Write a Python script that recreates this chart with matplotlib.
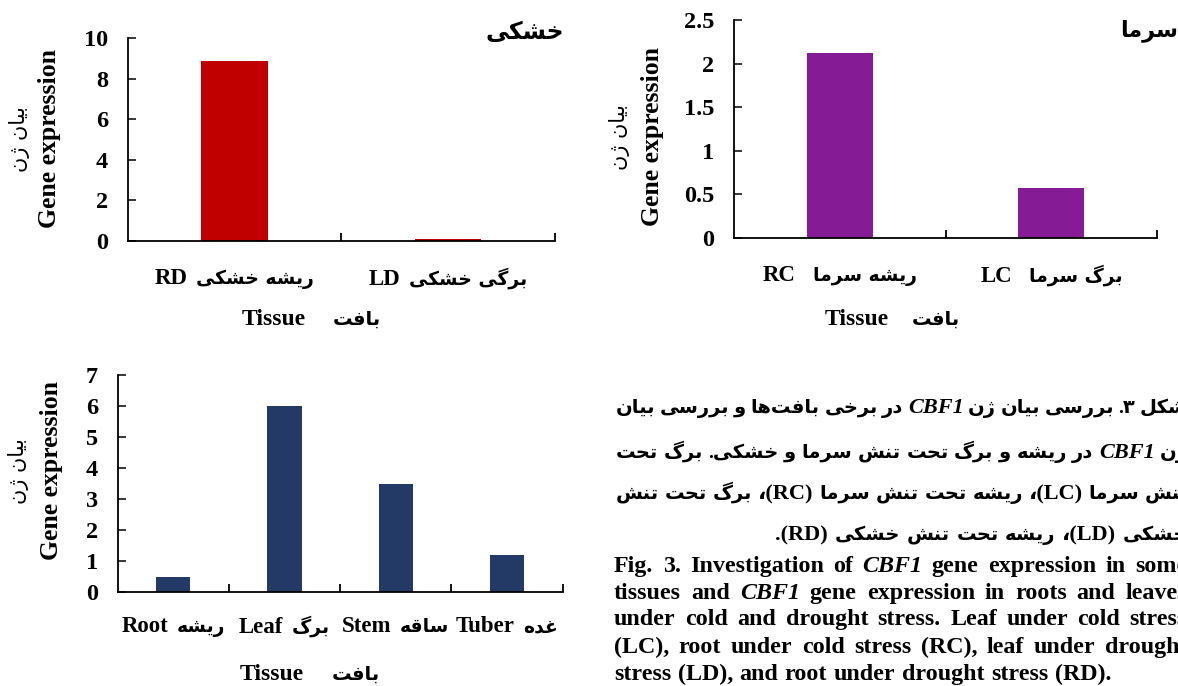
import matplotlib
matplotlib.use("Agg")
import matplotlib.pyplot as plt
from matplotlib.ticker import MultipleLocator, FormatStrFormatter
from matplotlib.offsetbox import TextArea, HPacker, AnnotationBbox

W, H, DPI = 1178, 686, 100
SERIF = ["Liberation Serif", "DejaVu Sans"]   # Latin from Times-like, Persian falls back
FA = ["DejaVu Sans"]

# ---- data -------------------------------------------------------------
drought_en = ["RD", "LD"]
drought_fa = ["ریشه خشکی", "برگی خشکی"]
drought_vals = [8.87, 0.12]

cold_en = ["RC", "LC"]
cold_fa = ["ریشه سرما", "برگ سرما"]
cold_vals = [2.12, 0.57]

organ_en = ["Root", "Leaf", "Stem", "Tuber"]
organ_fa = ["ریشه", "برگ", "ساقه", "غده"]
organ_vals = [0.48, 6.0, 3.48, 1.19]

caption_fa = [
    "شکل ۳. بررسی بیان ژن CBF1 در برخی بافت‌ها و بررسی بیان",
    "ژن CBF1 در ریشه و برگ تحت تنش سرما و خشکی. برگ تحت",
    "تنش سرما (LC)، ریشه تحت تنش سرما (RC)، برگ تحت تنش",
    "خشکی (LD)، ریشه تحت تنش خشکی (RD).",
]
caption_en = [
    "Fig. 3. Investigation of CBF1 gene expression in some",
    "tissues and CBF1 gene expression in roots and leaves",
    "under cold and drought stress. Leaf under cold stress",
    "(LC), root under cold stress (RC), leaf under drought",
    "stress (LD), and root under drought stress (RD).",
]

# ---- minimal Persian shaping (isolated, final, initial, medial) ---------
FORMS = {
    "ا": "\uFE8D\uFE8E", "د": "\uFEA9\uFEAA", "ر": "\uFEAD\uFEAE",
    "ز": "\uFEAF\uFEB0", "ژ": "\uFB8A\uFB8B", "و": "\uFEED\uFEEE",
    "ب": "\uFE8F\uFE90\uFE91\uFE92", "ت": "\uFE95\uFE96\uFE97\uFE98",
    "ح": "\uFEA1\uFEA2\uFEA3\uFEA4", "خ": "\uFEA5\uFEA6\uFEA7\uFEA8",
    "س": "\uFEB1\uFEB2\uFEB3\uFEB4", "ش": "\uFEB5\uFEB6\uFEB7\uFEB8",
    "غ": "\uFECD\uFECE\uFECF\uFED0", "ف": "\uFED1\uFED2\uFED3\uFED4",
    "ق": "\uFED5\uFED6\uFED7\uFED8", "ل": "\uFEDD\uFEDE\uFEDF\uFEE0",
    "م": "\uFEE1\uFEE2\uFEE3\uFEE4", "ن": "\uFEE5\uFEE6\uFEE7\uFEE8",
    "ه": "\uFEE9\uFEEA\uFEEB\uFEEC", "ی": "\uFBFC\uFBFD\uFBFE\uFBFF",
    "ک": "\uFB8E\uFB8F\uFB90\uFB91", "گ": "\uFB92\uFB93\uFB94\uFB95",
}


def fa(s):
    out = []
    for i, ch in enumerate(s):
        f = FORMS.get(ch)
        if f is None:
            if ch != "\u200c":
                out.append(ch)
            continue
        prev = FORMS.get(s[i - 1]) if i > 0 else None
        nxt = FORMS.get(s[i + 1]) if i + 1 < len(s) else None
        a = prev is not None and len(prev) == 4
        b = nxt is not None and len(f) == 4
        out.append(f[3] if a and b else f[1] if a else f[2] if b else f[0])
    return "".join(out)[::-1]


def fx(x):
    return x / W


def fy(y):
    return 1 - y / H


fig = plt.figure(figsize=(W / DPI, H / DPI), dpi=DPI)


def bar_panel(box, values, en, fa_lab, color, ymax, step, lab_off=27, sep=6,
              en_size=16.5, fa_size=13.5):
    l, r, t, b = box
    ax = fig.add_axes([fx(l), fy(b), fx(r - l), (b - t) / H])
    n = len(values)
    x = list(range(n))
    ax.bar(x, values, width=0.31, color=color)
    ax.set_xlim(-0.5, n - 0.5)
    ax.set_ylim(0, ymax)
    ax.yaxis.set_major_locator(MultipleLocator(step))
    ax.yaxis.set_major_formatter(FormatStrFormatter("%g"))
    ax.set_xticks([])
    ax.set_xticks([i + 0.5 for i in x], minor=True)
    for s in ["top", "right"]:
        ax.spines[s].set_visible(False)
    for s in ["left", "bottom"]:
        ax.spines[s].set_linewidth(1.3)
    ax.tick_params(axis="x", which="minor", direction="in", length=6, width=1.3)
    ax.tick_params(axis="y", direction="in", length=6, width=1.1, pad=14)
    for lab in ax.get_yticklabels():
        lab.set_fontfamily(SERIF)
        lab.set_fontweight("bold")
        lab.set_fontsize(17.5)
    for i, e, p in zip(x, en, fa_lab):
        pack = HPacker(children=[
            TextArea(e, textprops=dict(family=SERIF, weight="bold", fontsize=en_size)),
            TextArea(fa(p), textprops=dict(family=FA, weight="bold", fontsize=fa_size)),
        ], align="baseline", pad=0, sep=sep)
        ab = AnnotationBbox(pack, (i, 0), xycoords=("data", "axes fraction"),
                            xybox=(0, -lab_off), boxcoords="offset points",
                            box_alignment=(0.5, 0.5), frameon=False,
                            annotation_clip=False)
        ax.add_artist(ab)
    return ax


def ylabels(x_en, x_fa, yc):
    fig.text(fx(x_en), fy(yc), "Gene expression", rotation=90, ha="center", va="center",
             family=SERIF, weight="bold", fontsize=18.5)
    fig.text(fx(x_fa), fy(yc), fa("بیان ژن"), rotation=90, ha="center", va="center",
             family=FA, fontsize=15)


def xlabel(x_end, x_fa, y):
    fig.text(fx(x_end), fy(y), "Tissue", ha="right", va="baseline",
             family=SERIF, weight="bold", fontsize=17)
    fig.text(fx(x_fa), fy(y), fa("بافت"), ha="left", va="baseline",
             family=FA, weight="bold", fontsize=14)


# drought
bar_panel((127.5, 555, 38, 241), drought_vals, drought_en, drought_fa, "#C00000", 10, 2)
ylabels(50, 20, 139)
xlabel(306, 333, 325)
fig.text(fx(564), fy(32), fa("خشکی"), ha="right", va="center", family=FA,
         weight="bold", fontsize=17)

# cold
bar_panel((734, 1157, 20, 238), cold_vals, cold_en, cold_fa, "#861C95", 2.5, 0.5, sep=12)
ylabels(652, 620, 137)
xlabel(889, 912, 325)
fig.text(fx(1178), fy(31), fa("سرما"), ha="right", va="center", family=FA,
         weight="bold", fontsize=16)

# tissues
bar_panel((117.6, 562.7, 375, 592), organ_vals, organ_en, organ_fa, "#233A66", 7, 1,
          lab_off=25)
ylabels(52, 18.5, 471)
xlabel(304, 332, 680)

# ---- caption ------------------------------------------------------------
renderer = fig.canvas.get_renderer()


def set_line(tokens, y, x0, x1, mode):
    objs = []
    for txt, it, size in tokens:
        objs.append(fig.text(0, fy(y), txt, ha="left", va="baseline", family=SERIF,
                             weight="bold", style="italic" if it else "normal",
                             fontsize=size))
    ws = [o.get_window_extent(renderer).width for o in objs]
    space = 6.5
    if mode == "justify" and len(objs) > 1:
        gap = max((x1 - x0 - sum(ws)) / (len(objs) - 1), 4)
        start = x0
    else:
        gap = space
        total = sum(ws) + gap * (len(objs) - 1)
        start = x0 if mode == "left" else x1 - total
    x = start
    for o, w in zip(objs, ws):
        o.set_x(fx(x))
        x += w + gap


def fa_tokens(line, size_fa=14, size_lat=16):
    toks = []
    for w in line.split()[::-1]:
        if w == "CBF1":
            toks.append((w, True, size_lat))
        elif w.startswith("("):
            toks.append((w[-1] + w[:-1], False, size_lat))
        else:
            toks.append((fa(w), False, size_fa))
    return toks


fa_y = [413, 458, 499, 540]
for i, line in enumerate(caption_fa):
    mode = "justify" if i < len(caption_fa) - 1 else "right"
    set_line(fa_tokens(line), fa_y[i], 616, 1188, mode)

en_y = [572, 599, 625, 653, 680]
for i, line in enumerate(caption_en):
    toks = [(w, w == "CBF1", 17.3) for w in line.split()]
    mode = "justify" if i < len(caption_en) - 1 else "left"
    set_line(toks, en_y[i], 614, 1187, mode)

fig.savefig("out.png", dpi=DPI)
